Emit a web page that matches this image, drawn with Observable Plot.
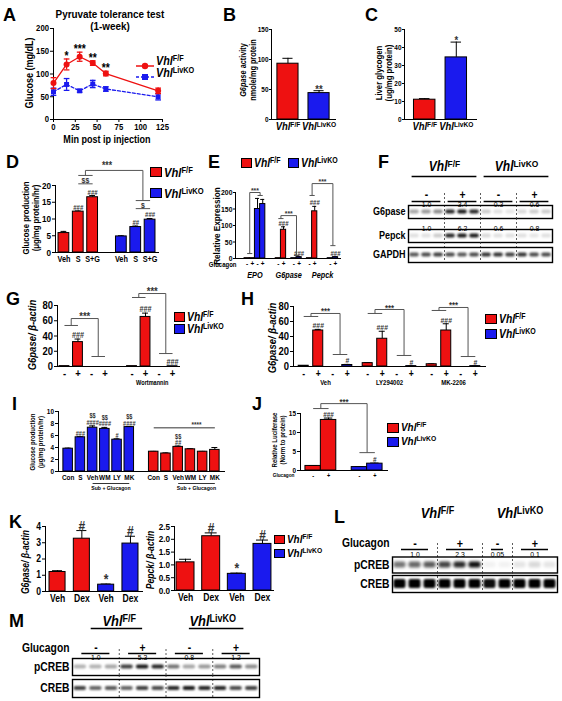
<!DOCTYPE html>
<html><head><meta charset="utf-8">
<script src="https://cdn.jsdelivr.net/npm/d3@7"></script>
<script src="https://cdn.jsdelivr.net/npm/@observablehq/plot@0.6"></script>
<style>
body{margin:0;background:#fff;}
#root{position:relative;width:562px;height:701px;overflow:hidden;font-family:"Liberation Sans",Arial,Helvetica,sans-serif;font-weight:bold;color:#000;background:#fff;}
sup{font-size:68%;vertical-align:0;position:relative;top:-0.5em;font-style:normal;}
</style></head><body><div id="root"></div><script>
// ================= DATA =================
// A: pyruvate tolerance test
const ptt_time = [0, 15, 30, 45, 60, 120];
const ptt_ff = [80, 121, 138, 124, 101, 63];
const ptt_ff_err = [12, 12, 10, 5, 5, 6];
const ptt_ko = [61, 77, 63, 78, 67, 50];
const ptt_ko_err = [8, 13, 3, 8, 5, 7];
const ptt_sig = ["", "*", "***", "**", "**", ""];
const ptt_xticks = [0, 25, 50, 75, 100, 125];
const ptt_yticks = [0, 50, 100, 150, 200];
// B, C
const genotypes = ["Vhl^F/F", "Vhl^LivKO"];
const g6act = [93, 44], g6act_err = [9, 4], g6act_sig = ["", "**"];
const glyco = [11, 34.5], glyco_err = [0.6, 8.5], glyco_sig = ["", "*"];
// D
const d_treat = ["Veh", "S", "S+G"];
const d_ff = [5.8, 12.2, 16.5], d_ff_err = [0.5, 0.2, 0.5], d_ff_sig = ["", "###", "###"];
const d_ko = [4.8, 7.6, 9.8], d_ko_err = [0.2, 0.3, 0.35], d_ko_sig = ["", "##", "###"];
// E
const e_genes = ["EPO", "G6pase", "Pepck"];
const e_ff_minus = [1, 1, 1];
const e_ff_plus = [1, 87, 143], e_ff_plus_err = [0, 9, 15], e_ff_plus_sig = ["", "###", "###"];
const e_ko_minus = [150, 1, 1], e_ko_minus_err = [32, 0, 0];
const e_ko_plus = [165, 4, 4], e_ko_plus_err = [14, 1, 1], e_ko_plus_sig = ["", "###", "###"];
const e_brk = [[15, 200, 191], [121, 130, 9], [191, 227, 39]];
// F blot
const f_signs = ["-", "+", "-", "+"];
const f_g6pase_ratio = ["1.0", "3.4", "0.3", "0.6"];
const f_pepck_ratio = ["1.0", "6.2", "0.6", "0.8"];
const f_g6pase_bands = [0.35, 0.4, 0.45, 0.85, 0.9, 0.85, 0.2, 0.12, 0.1, 0.15, 0.2, 0.2];
const f_pepck_bands = [0.12, 0.12, 0.2, 0.85, 0.9, 0.9, 0.15, 0.12, 0.12, 0.12, 0.1, 0.12];
const f_gapdh_bands = [0.65, 0.7, 0.75, 0.7, 0.65, 0.7, 0.8, 0.8, 0.75, 0.8, 0.7, 0.7];
// G
const g_ff_minus = [0.5, 0.5], g_ff_plus = [32, 65], g_ff_plus_err = [4, 5];
const g_ko_minus = [0, 0], g_ko_plus = [0, 0.3];
const g_ff_sig = ["###", "###"], g_ko_sig = ["", "###"];
const g_brk = [[53.8, 62.9, 13.1], [90.5, 95.7, 17]];
// H
const h_groups = ["Veh", "LY294002", "MK-2206"];
const h_ff_minus = [1, 4.5, 3], h_ff_minus_err = [0.3, 0.6, 0.5];
const h_ff_plus = [48, 37, 48], h_ff_plus_err = [1.5, 10, 9];
const h_ko_minus = [0, 0, 0];
const h_ko_plus = [2, 0.5, 0.5], h_ko_plus_err = [0.8, 0.2, 0.2];
const h_ff_sig = ["###", "###", "###"], h_ko_sig = ["#", "#", "#"];
const h_brk = [[66.7, 70.7, 16], [70.7, 76, 14.7], [74.7, 78.7, 13.3]];
// I
const i_treat = ["Con", "S", "Veh", "WM", "LY", "MK"];
const i_blue = [3.8, 5.7, 7.3, 7.1, 5.3, 7.4], i_blue_err = [0.1, 0.1, 0.3, 0.25, 0.15, 0.1];
const i_blue_sig = ["", "###", "$$\n####", "$$\n####", "#", "$$\n####"];
const i_red = [3.3, 3.0, 4.1, 3.7, 3.3, 3.6], i_red_err = [0.05, 0.1, 0.15, 0.1, 0.05, 0.4];
const i_red_sig = ["", "", "$$\n##", "", "", ""];
const i_sub = "Sub + Glucagon";
const i_all = {t: "****", y: 7.3};
// J
const j_ff = [1.2, 13.3], j_ff_err = [0.1, 0.5];
const j_ko = [0.9, 1.8], j_ko_err = [0.05, 0.15];
const j_sig_ff = ["", "###"], j_sig_ko = ["", "#"];
const j_brk = [16.3, 17.6, 4.7];
// K
const k_treat = ["Veh", "Dex", "Veh", "Dex"];
const k_geno = ["F", "F", "K", "K"];
const k_g6 = [1.2, 3.25, 0.42, 2.95], k_g6_err = [0.08, 0.5, 0.04, 0.45];
const k_pepck = [1.1, 2.12, 0.65, 1.82], k_pepck_err = [0.12, 0.13, 0.03, 0.15];
const k_sig = ["", "#", "*", "#"];
// L blot
const l_ratio = ["1.0", "2.3", "0.05", "0.1"];
const l_pcreb_bands = [0.55, 0.6, 0.65, 0.75, 0.85, 0.95, 0.05, 0.05, 0.1, 0.15, 0.1];
const l_creb_bands = [1, 1, 1, 1, 1, 1, 0.95, 1, 1, 1, 1];
// M blot
const m_ratio = ["1.0", "5.3", "0.8", "1.2"];
const m_pcreb_bands = [0.3, 0.3, 0.35, 0.75, 0.9, 0.85, 0.55, 0.35, 0.4, 0.5, 0.65, 0.45];
const m_creb_bands = [0.75, 0.6, 0.65, 0.6, 0.75, 0.7, 0.85, 0.9, 0.85, 0.85, 0.7, 0.75];

// ================= HELPERS =================
const RED = "#ee1111", BLUE = "#1a1aee", BR = "#555", ANN = "#333";
const FONT = '"Liberation Sans", Arial, Helvetica, sans-serif';
const SX = 0.86; // horizontal squeeze of the figure's lettering
const root = document.getElementById("root");
const NS = "http://www.w3.org/2000/svg";
const geoFill = g => g === "F" ? RED : BLUE;

function place(el, left, top) { el.style.position = "absolute"; el.style.left = left + "px"; el.style.top = top + "px"; root.appendChild(el); return el; }
function div(css, inner) { const d = document.createElement("div"); d.style.cssText = "position:absolute;white-space:nowrap;line-height:1;" + css; d.innerHTML = inner; root.appendChild(d); return d; }
function ctext(cx, cy, inner, fs, extra = "") { return div(`left:${cx}px;top:${cy}px;font-size:${fs}px;transform:translate(-50%,-50%) scaleX(${SX});text-align:center;${extra}`, inner); }
function vtext(cx, cy, inner, fs, extra = "") { return div(`left:${cx}px;top:${cy}px;font-size:${fs}px;transform:translate(-50%,-50%) rotate(-90deg) scaleX(${SX});text-align:center;line-height:1.15;${extra}`, inner); }
function ltext(x, cy, inner, fs, extra = "") { return div(`left:${x}px;top:${cy}px;font-size:${fs}px;transform:translateY(-50%) scaleX(${SX});transform-origin:0 50%;${extra}`, inner); }
function letter(x, capTop, ch, fs = 18) { div(`left:${x}px;top:${capTop - 2}px;font-size:${fs}px;`, ch); }
function swatch(x, y, w, h, color) { div(`left:${x}px;top:${y}px;width:${w}px;height:${h}px;background:${color};border:1px solid #000;box-sizing:border-box;`, ""); }
const VFF = "<i>Vhl</i><sup>F/F</sup>", VKO = "<i>Vhl</i><sup>LivKO</sup>";

function supify(svg) {
  svg.querySelectorAll("text, tspan").forEach(t => {
    if (t.children.length) return;
    const s = t.textContent;
    if (!s.includes("^")) return;
    const [base, sup] = s.split("^");
    t.textContent = "";
    const a = document.createElementNS(NS, "tspan"); a.textContent = base; a.setAttribute("font-style", "italic");
    const b = document.createElementNS(NS, "tspan"); b.textContent = sup; b.setAttribute("dy", "-0.45em"); b.setAttribute("font-size", "70%");
    t.append(a, b);
  });
}
function narrow(svg) {
  svg.querySelectorAll("text").forEach(t => {
    const tr = t.getAttribute("transform");
    if (tr) t.setAttribute("transform", tr + ` scale(${SX},1)`);
    else {
      const x = +(t.getAttribute("x") || 0), y = +(t.getAttribute("y") || 0);
      t.setAttribute("transform", `translate(${x},${y}) scale(${SX},1) translate(${-x},${-y})`);
    }
  });
}
function finish(svg) { supify(svg); narrow(svg); }
function style(fs) { return {fontFamily: FONT, fontWeight: "bold", fontSize: fs + "px", background: "transparent", overflow: "visible", color: "#000"}; }
function mkPlot({ax, yt, ml, mr, mt, mb, w, h, fs = 8, xfs, marks, ...rest}) {
  const svg = Plot.plot({width: ml + w + mr, height: mt + h + mb, marginLeft: ml, marginRight: mr, marginTop: mt, marginBottom: mb,
    style: style(fs), color: {type: "identity"}, marks: marks.flat().filter(Boolean), ...rest});
  if (xfs) svg.querySelectorAll('[aria-label^="x-axis"]').forEach(g => g.setAttribute("font-size", xfs));
  finish(svg);
  place(svg, ax - ml, yt - mt);
  return svg;
}
function barRecs(keys, vals, errs, sigs, fills, extra = {}) {
  return keys.map((k, i) => ({k, v: vals[i], e: errs ? errs[i] : 0, s: sigs ? sigs[i] : "", f: fills[i], ...extra}));
}
function barMarks(data, {cap = 2, sigFs = 7, sigDy = -2, fx = false} = {}) {
  const o = fx ? {fx: "g"} : {};
  const er = data.filter(d => d.e > 0);
  return [
    Plot.ruleX(er, {...o, x: "k", y1: "v", y2: d => d.v + d.e, stroke: "#000", strokeWidth: 1}),
    Plot.tickY(er, {...o, x: "k", y: d => d.v + d.e, insetLeft: cap, insetRight: cap, stroke: "#000", strokeWidth: 1}),
    Plot.barY(data, {...o, x: "k", y: "v", fill: "f", stroke: "#000", strokeWidth: 1}),
    Plot.text(data.filter(d => d.s), {...o, x: "k", y: d => d.v + d.e, text: "s", dy: sigDy, fontSize: sigFs, lineAnchor: "bottom", fill: ANN})
  ];
}
function bracketMarks(list, half) {
  const feet = [], ups = [];
  const hasFx = list[0].fx !== undefined;
  for (const b of list) {
    const base = hasFx ? {fx: b.fx} : {};
    feet.push({...base, x1: b.l1, x2: b.l2, y1: b.yl, y2: b.yl});
    feet.push({...base, x1: b.r1, x2: b.r2, y1: b.yr, y2: b.yr});
    ups.push({...base, x1: b.l2, x2: b.l2, y1: b.yl, y2: b.yt});
    ups.push({...base, x1: b.l2, x2: b.r2, y1: b.yt, y2: b.yt});
    ups.push({...base, x1: b.r2, x2: b.r2, y1: b.yt, y2: b.yr});
  }
  const o = {x1: "x1", x2: "x2", y1: "y1", y2: "y2", stroke: BR, strokeWidth: 1};
  if (hasFx) o.fx = "fx";
  return [Plot.link(feet, o), Plot.link(ups, {...o, dx: -half})];
}
let blurId = 0;
function addBlur(svg, sd) {
  const id = "blur" + (++blurId);
  const defs = document.createElementNS(NS, "defs");
  defs.innerHTML = `<filter id="${id}" x="-30%" y="-150%" width="160%" height="400%"><feGaussianBlur stdDeviation="${sd}"/></filter>`;
  svg.prepend(defs);
  svg.querySelectorAll('g[aria-label="rect"]').forEach(g => g.setAttribute("filter", `url(#${id})`));
}
function blot(cfg) {
  const {x0, x1, n, dividers, groups, signs, H, rows, ml = 70, mr = 5} = cfg;
  const w = x1 - x0;
  const centers = groups.map(g => (g[0] + g[1]) / 2);
  const hsvg = Plot.plot({width: ml + w + mr, height: 2 * H.rowH, marginLeft: ml, marginRight: mr, marginTop: 0, marginBottom: 0,
    style: style(10), x: {domain: [0, n], axis: null}, y: {domain: ["g", "s"], axis: null, padding: 0, round: false},
    marks: [
      Plot.ruleX(dividers, {x: d => d, y: () => "s", insetTop: H.divInset, strokeDasharray: "2,2", stroke: "#333", strokeWidth: 0.8}),
      Plot.text(H.geno, {x: "at", y: () => "g", text: "t", fontSize: H.genoFs}),
      H.genoLines ? Plot.ruleY(H.genoLines, {x1: d => d[0], x2: d => d[1], y: () => "g", dy: H.genoDy, strokeWidth: 1.5}) : null,
      Plot.text(signs, {x: (d, i) => centers[i], y: () => "s", text: d => d, fontSize: H.signFs, dy: H.signTextDy || 0}),
      Plot.ruleY(groups, {x1: g => g[0] + H.signInset, x2: g => g[1] - H.signInset, y: () => "s", dy: H.signDy, strokeWidth: 1.5}),
      H.glucagon ? Plot.text(["Glucagon"], {x: () => 0, y: () => "s", dx: -3, dy: H.signTextDy || 0, textAnchor: "end", text: d => d, fontSize: H.glucFs}) : null
    ].filter(Boolean)});
  finish(hsvg);
  place(hsvg, x0 - ml, H.top);
  for (const r of rows) {
    const bh = r.bottom - r.top;
    const lanes = r.a.map((a, i) => ({i, a}));
    const inset = (bh - r.band) / 2;
    const svg = Plot.plot({width: ml + w + mr, height: r.mt + bh, marginLeft: ml, marginRight: mr, marginTop: r.mt, marginBottom: 0,
      style: style(10), x: {domain: [0, n], axis: null},
      marks: [
        Plot.rect(lanes, {x1: d => d.i + 0.1, x2: d => d.i + 0.9, insetTop: inset, insetBottom: inset, fill: "#000", fillOpacity: "a", rx: 2}),
        Plot.ruleX(dividers, {x: d => d, insetTop: -r.mt, strokeDasharray: "2,2", stroke: "#333", strokeWidth: 0.8}),
        Plot.frame({stroke: "#000", strokeWidth: 1.4}),
        Plot.text([r.name], {frameAnchor: "left", dx: -3, textAnchor: "end", text: d => d, fontSize: r.fs}),
        r.nums ? Plot.text(r.nums, {x: (d, i) => centers[i], frameAnchor: "top", dy: -r.numDy, text: d => d, fontWeight: "normal", fontSize: r.numFs || 8.5}) : null
      ].filter(Boolean)});
    addBlur(svg, r.blur || 1);
    finish(svg);
    place(svg, x0 - ml, r.top - r.mt);
  }
}

// ================= PANEL A =================
{
  const rows = ptt_time.map((t, i) => ({t, ff: ptt_ff[i], ffe: ptt_ff_err[i], ko: ptt_ko[i], koe: ptt_ko_err[i], s: ptt_sig[i]}));
  const cap = {draw(ctx, size) { const w = Math.sqrt(size); ctx.moveTo(-w, 0); ctx.lineTo(w, 0); }};
  const errs = (key, ekey, color) => [
    Plot.ruleX(rows, {x: "t", y1: d => d[key] - d[ekey], y2: d => d[key] + d[ekey], stroke: color, strokeWidth: 1.3}),
    Plot.dot(rows, {x: "t", y: d => d[key] - d[ekey], symbol: cap, r: 1.6, stroke: color, fill: "none", strokeWidth: 1.3}),
    Plot.dot(rows, {x: "t", y: d => d[key] + d[ekey], symbol: cap, r: 1.6, stroke: color, fill: "none", strokeWidth: 1.3})
  ];
  mkPlot({ax: 53, yt: 28, w: 109, h: 91, ml: 30, mr: 10, mt: 15, mb: 20, fs: 9,
    x: {domain: [0, 125], ticks: ptt_xticks, tickSize: 3, tickPadding: 1, line: true, label: null},
    y: {domain: [0, 200], ticks: ptt_yticks, tickSize: 3, tickPadding: 1.5, line: true, label: null},
    marks: [
      errs("ko", "koe", BLUE),
      Plot.line(rows, {x: "t", y: "ko", stroke: BLUE, strokeWidth: 1.3, strokeDasharray: "3,2"}),
      Plot.dot(rows, {x: "t", y: "ko", symbol: "square", r: 2.8, fill: BLUE}),
      errs("ff", "ffe", RED),
      Plot.line(rows, {x: "t", y: "ff", stroke: RED, strokeWidth: 1.3}),
      Plot.dot(rows, {x: "t", y: "ff", r: 3, fill: RED}),
      Plot.text(rows.filter(d => d.s), {x: "t", y: d => d.ff + d.ffe, text: "s", dy: 1, lineAnchor: "bottom", fontSize: 12})
    ]});
  letter(3, 8, "A");
  ctext(110, 15, "Pyruvate tolerance test", 11.5);
  ctext(110, 27, "(1-week)", 11.5);
  vtext(29, 73, "Glucose (mg/dL)", 10.5);
  ctext(107, 138.5, "Min post ip injection", 10.5);
  div(`left:136px;top:57px;`, `<svg width="18" height="8"><line x1="0" y1="4" x2="18" y2="4" stroke="${RED}" stroke-width="1.5"/><circle cx="9" cy="4" r="3.2" fill="${RED}"/></svg>`);
  div(`left:136px;top:68px;`, `<svg width="18" height="8"><line x1="0" y1="4" x2="18" y2="4" stroke="${BLUE}" stroke-width="1.5" stroke-dasharray="3,2"/><rect x="6" y="1" width="6" height="6" fill="${BLUE}"/></svg>`);
  ltext(156, 61, VFF, 12.5);
  ltext(156, 73, VKO, 12.5);
}

// ================= PANEL B & C =================
{
  const b = barRecs(genotypes, g6act, g6act_err, g6act_sig, [RED, BLUE]);
  mkPlot({ax: 271, yt: 29, w: 64, h: 90, ml: 30, mr: 8, mt: 10, mb: 22, fs: 7.5, xfs: 11,
    x: {domain: genotypes, paddingInner: 0.32, paddingOuter: 0.19, round: false, tickSize: 0, tickPadding: 3, line: true, label: null},
    y: {domain: [0, 150], ticks: [0, 50, 100, 150], tickSize: 2, tickPadding: 1, line: true, label: null},
    marks: [barMarks(b, {cap: 5.5, sigFs: 11, sigDy: 2})]});
  letter(223, 8, "B");
  vtext(249, 70, "<i>G6pase</i> activity<br>nmole/mg protein", 8.5);

  const c = barRecs(genotypes, glyco, glyco_err, glyco_sig, [RED, BLUE]);
  mkPlot({ax: 404, yt: 29, w: 72, h: 90, ml: 30, mr: 8, mt: 10, mb: 22, fs: 7.5, xfs: 11,
    x: {domain: genotypes, paddingInner: 0.32, paddingOuter: 0.3, round: false, tickSize: 0, tickPadding: 3, line: true, label: null},
    y: {domain: [0, 50], ticks: [0, 10, 20, 30, 40, 50], tickSize: 2, tickPadding: 1, line: true, label: null},
    marks: [barMarks(c, {cap: 5.5, sigFs: 11, sigDy: 2})]});
  letter(365, 8, "C");
  vtext(384, 73, "Liver glycogen<br>(ug/mg protein)", 9);
}

// ================= PANEL D =================
{
  const dom = ["F|Veh", "F|S", "F|S+G", "gap", "K|Veh", "K|S", "K|S+G"];
  const data = [
    ...barRecs(d_treat.map(t => "F|" + t), d_ff, d_ff_err, d_ff_sig, d_treat.map(() => RED)),
    ...barRecs(d_treat.map(t => "K|" + t), d_ko, d_ko_err, d_ko_sig, d_treat.map(() => BLUE))
  ];
  mkPlot({ax: 55, yt: 185, w: 103, h: 67, ml: 30, mr: 5, mt: 25, mb: 15, fs: 9.5, xfs: 8.5,
    x: {domain: dom, ticks: dom.filter(k => k !== "gap"), tickFormat: k => k.split("|")[1], paddingInner: 0.25, paddingOuter: 0.21, round: false, tickSize: 0, tickPadding: 3, line: true, label: null},
    y: {domain: [0, 20], ticks: [0, 5, 10, 15, 20], tickSize: 3, tickPadding: 1.5, line: true, label: null},
    marks: [
      barMarks(data, {cap: 2.5, sigFs: 7, sigDy: -1}),
      bracketMarks([{l1: "F|S", l2: "F|S+G", r1: "K|S", r2: "K|S+G", yl: 23, yt: 24.5, yr: 15.5}], 7.2),
      Plot.link([{a: "F|S", b: "F|S+G", y: 20.5}, {a: "K|S", b: "K|S+G", y: 13.1}], {x1: "a", x2: "b", y1: "y", y2: "y", stroke: BR}),
      Plot.text([{x: "gap", y: 24.5, t: "***"}], {x: "x", y: "y", text: "t", dy: -1, lineAnchor: "bottom", fontSize: 10, fill: ANN}),
      Plot.text([{x: "F|S+G", y: 20.5, t: "$$"}, {x: "K|S+G", y: 13.1, t: "$"}], {x: "x", y: "y", text: "t", dx: -7.2, dy: -1, lineAnchor: "bottom", fontSize: 8, fill: ANN})
    ]});
  letter(6, 155, "D");
  vtext(31, 218, "Glucose production<br>(μg/mg protein/hr)", 9);
  swatch(150, 167, 12, 10, RED); ltext(164, 172, VFF, 13);
  swatch(150, 188, 12, 10, BLUE); ltext(164, 193, VKO, 13);
}

// ================= PANEL E =================
{
  const dom = ["EPO|F-", "EPO|F+", "EPO|K-", "EPO|K+", "EPO|s1", "EPO|s2", "G6pase|F-", "G6pase|F+", "G6pase|s1", "G6pase|K-", "G6pase|K+", "G6pase|s2", "Pepck|F-", "Pepck|F+", "Pepck|s1", "Pepck|s2", "Pepck|K-", "Pepck|K+"];
  const data = [];
  e_genes.forEach((g, i) => {
    data.push({k: g + "|F-", v: e_ff_minus[i], e: 0, s: "", f: RED});
    data.push({k: g + "|F+", v: e_ff_plus[i], e: e_ff_plus_err[i], s: e_ff_plus_sig[i], f: RED});
    data.push({k: g + "|K-", v: e_ko_minus[i], e: e_ko_minus_err[i], s: "", f: BLUE});
    data.push({k: g + "|K+", v: e_ko_plus[i], e: e_ko_plus_err[i], s: e_ko_plus_sig[i], f: BLUE});
  });
  const brk = e_genes.map((g, i) => ({l1: g + "|F-", l2: g + "|F+", r1: g + "|K-", r2: g + "|K+", yl: e_brk[i][0], yt: e_brk[i][1], yr: e_brk[i][2]}));
  mkPlot({ax: 235, yt: 192, w: 105, h: 66, ml: 30, mr: 5, mt: 25, mb: 25, fs: 8, xfs: 7.5,
    x: {domain: dom, ticks: dom.filter(k => !k.includes("|s")), tickFormat: k => k.endsWith("-") ? "-" : "+", paddingInner: 0, paddingOuter: 1.1, align: 0.79, round: false, tickSize: 0, tickPadding: 2, line: true, label: null},
    y: {domain: [0, 200], ticks: [0, 50, 100, 150, 200], tickSize: 2, tickPadding: 1, line: true, label: null},
    marks: [
      barMarks(data, {cap: 0.6, sigFs: 7, sigDy: -1}),
      bracketMarks(brk, 2.6),
      Plot.text([{x: "EPO|K-", y: 200}, {x: "Pepck|s2", y: 227}], {x: "x", y: "y", text: () => "***", dx: -2.6, dy: 0, lineAnchor: "bottom", fontSize: 8, fill: ANN}),
      Plot.text([{x: "G6pase|s1", y: 130}], {x: "x", y: "y", text: () => "***", dy: 0, lineAnchor: "bottom", fontSize: 8, fill: ANN}),
      Plot.text([{x: "EPO|K-", t: "EPO"}, {x: "Pepck|s2", t: "Pepck"}], {x: "x", y: () => 0, text: "t", dx: -2.6, dy: 17, fontSize: 8.5, fontStyle: "italic"}),
      Plot.text([{x: "G6pase|s1", t: "G6pase"}], {x: "x", y: () => 0, text: "t", dy: 17, fontSize: 8.5, fontStyle: "italic"}),
      Plot.text(["Glucagon"], {frameAnchor: "bottom-left", text: d => d, dx: 1, dy: 8, textAnchor: "end", fontSize: 7})
    ]});
  letter(208, 155, "E");
  vtext(216.5, 226, "Relative Expression", 9.5);
  swatch(241, 158, 11, 10, RED); ltext(254, 163, VFF, 12);
  swatch(288, 158, 11, 10, BLUE); ltext(301, 163, VKO, 12);
}

// ================= PANEL F (blot) =================
blot({x0: 408, x1: 552, n: 12, dividers: [3, 6, 9], groups: [[0, 3], [3, 6], [6, 9], [9, 12]], signs: f_signs,
  H: {top: 165.5, rowH: 15, geno: [{at: 3, t: "Vhl^F/F"}, {at: 9, t: "Vhl^LivKO"}], genoFs: 14, genoLines: [[0.3, 5.7], [6.3, 11.7]], genoDy: 10,
      signFs: 12, signTextDy: -1.5, signInset: 0.3, signDy: 5, divInset: 6, glucagon: false},
  rows: [
    {name: "G6pase", top: 205, bottom: 218, mt: 12, band: 4, a: f_g6pase_bands, nums: f_g6pase_ratio, numDy: 4.5, numFs: 8, fs: 10.5},
    {name: "Pepck", top: 229, bottom: 242, mt: 11, band: 4, a: f_pepck_bands, nums: f_pepck_ratio, numDy: 4.5, numFs: 8, fs: 10.5},
    {name: "GAPDH", top: 247, bottom: 262, mt: 5, band: 4, a: f_gapdh_bands, fs: 10.5}
  ]});
letter(378, 155, "F");

// ================= PANEL G =================
{
  const dom = ["1F-", "1F+", "1K-", "1K+", "sp", "2F-", "2F+", "2K-", "2K+"];
  const data = [];
  [0, 1].forEach(i => {
    const p = (i + 1) + "";
    data.push({k: p + "F-", v: g_ff_minus[i], e: 0, s: "", f: RED});
    data.push({k: p + "F+", v: g_ff_plus[i], e: g_ff_plus_err[i], s: g_ff_sig[i], f: RED});
    data.push({k: p + "K-", v: g_ko_minus[i], e: 0, s: "", f: BLUE});
    data.push({k: p + "K+", v: g_ko_plus[i], e: 0, s: g_ko_sig[i], f: BLUE});
  });
  const brk = [0, 1].map(i => { const p = (i + 1) + ""; return {l1: p + "F-", l2: p + "F+", r1: p + "K-", r2: p + "K+", yl: g_brk[i][0], yt: g_brk[i][1], yr: g_brk[i][2]}; });
  mkPlot({ax: 57, yt: 305, w: 122, h: 61, ml: 30, mr: 5, mt: 25, mb: 25, fs: 11, xfs: 11,
    x: {domain: dom, ticks: dom.filter(k => k !== "sp"), tickFormat: k => k.slice(-1), paddingInner: 0.27, paddingOuter: 0.15, round: false, tickSize: 0, tickPadding: 3, line: true, label: null},
    y: {domain: [0, 80], ticks: [0, 20, 40, 60, 80], tickSize: 3, tickPadding: 1.5, line: true, label: null},
    marks: [
      barMarks(data, {cap: 2, sigFs: 8.5, sigDy: -1}),
      bracketMarks(brk, 6.75),
      Plot.text(brk, {x: "l2", y: "yt", text: () => "***", dx: 6.75, dy: 1, lineAnchor: "bottom", fontSize: 11, fill: ANN}),
      Plot.text(["Wortmannin"], {x: () => "2F+", y: () => 0, text: d => d, dx: 6.75, dy: 16, fontSize: 6.5})
    ]});
  letter(6, 292, "G");
  vtext(32, 335, "<i>G6pase/ β-actin</i>", 11);
  swatch(174, 312, 11, 10, RED); ltext(187, 317, VFF, 12);
  swatch(174, 324, 11, 10, BLUE); ltext(187, 329, VKO, 12);
}

// ================= PANEL H (faceted) =================
{
  const data = [];
  h_groups.forEach((g, i) => {
    data.push({g, k: "F-", v: h_ff_minus[i], e: h_ff_minus_err[i], s: "", f: RED});
    data.push({g, k: "F+", v: h_ff_plus[i], e: h_ff_plus_err[i], s: h_ff_sig[i], f: RED});
    data.push({g, k: "K-", v: h_ko_minus[i], e: 0, s: "", f: BLUE});
    data.push({g, k: "K+", v: h_ko_plus[i], e: h_ko_plus_err[i], s: h_ko_sig[i], f: BLUE});
  });
  const brk = h_groups.map((g, i) => ({fx: g, l1: "F-", l2: "F+", r1: "K-", r2: "K+", yl: h_brk[i][0], yt: h_brk[i][1], yr: h_brk[i][2]}));
  mkPlot({ax: 293, yt: 306, w: 192, h: 60, ml: 25, mr: 5, mt: 25, mb: 25, fs: 11, xfs: 10,
    fx: {domain: h_groups, padding: 0, axis: null, round: false},
    x: {domain: ["F-", "F+", "K-", "K+"], tickFormat: k => k.slice(-1), paddingInner: 0.31, paddingOuter: 0.357, round: false, tickSize: 0, tickPadding: 3, line: true, label: null},
    y: {domain: [0, 80], ticks: [0, 20, 40, 60, 80], tickSize: 3, tickPadding: 1.5, line: true, label: null},
    marks: [
      barMarks(data, {cap: 2, sigFs: 8, sigDy: -1, fx: true}),
      bracketMarks(brk, 7.25),
      Plot.text(brk, {fx: "fx", x: "l2", y: "yt", text: () => "***", dx: 7.25, dy: 1, lineAnchor: "bottom", fontSize: 9, fill: ANN}),
      Plot.text(h_groups, {fx: d => d, frameAnchor: "bottom", text: d => d, dy: 18, fontSize: 7})
    ]});
  letter(241, 292, "H");
  vtext(272, 338, "<i>G6pase/ β-actin</i>", 11);
  swatch(485, 314, 12, 10, RED); ltext(499, 319, VFF, 12);
  swatch(485, 329, 12, 10, BLUE); ltext(499, 334, VKO, 12);
}

// ================= PANEL I =================
{
  const dom = [...i_treat.map(t => "B|" + t), "gap", ...i_treat.map(t => "R|" + t)];
  const data = [
    ...barRecs(i_treat.map(t => "B|" + t), i_blue, i_blue_err, i_blue_sig, i_treat.map(() => BLUE)),
    ...barRecs(i_treat.map(t => "R|" + t), i_red, i_red_err, i_red_sig, i_treat.map(() => RED))
  ];
  mkPlot({ax: 58, yt: 411, w: 166, h: 60, ml: 25, mr: 5, mt: 15, mb: 25, fs: 7.5, xfs: 7.5,
    x: {domain: dom, ticks: dom.filter(k => k !== "gap"), tickFormat: k => k.split("|")[1], paddingInner: 0.22, paddingOuter: 0.4, round: false, tickSize: 0, tickPadding: 3, line: true, label: null},
    y: {domain: [0, 10], ticks: [0, 2, 4, 6, 8, 10], tickSize: 3, tickPadding: 1.5, line: true, label: null},
    marks: [
      barMarks(data, {cap: 1.8, sigFs: 6.5, sigDy: -1}),
      Plot.link([{a: "R|Con", b: "R|MK", y: i_all.y}], {x1: "a", x2: "b", y1: "y", y2: "y", stroke: "#777", strokeWidth: 1.5}),
      Plot.text([i_all], {x: () => "R|WM", y: "y", text: "t", dx: 6.1, dy: -1, lineAnchor: "bottom", fontSize: 7.5, fill: ANN}),
      Plot.link(["B", "R"], {x1: p => p + "|Veh", x2: p => p + "|MK", y1: () => 0, y2: () => 0, dy: 12, stroke: "#000", strokeWidth: 0.8}),
      Plot.text(["B", "R"], {x: p => p + "|WM", y: () => 0, text: () => i_sub, dx: 6.1, dy: 16.5, fontSize: 6})
    ]});
  letter(12, 397, "I");
  vtext(37, 442, "Glucose production<br>(μg/mg protein/hr)", 7);
}

// ================= PANEL J =================
{
  const dom = ["F-", "F+", "sp", "K-", "K+"];
  const data = [
    ...barRecs(["F-", "F+"], j_ff, j_ff_err, j_sig_ff, [RED, RED]),
    ...barRecs(["K-", "K+"], j_ko, j_ko_err, j_sig_ko, [BLUE, BLUE])
  ];
  mkPlot({ax: 300, yt: 413, w: 87, h: 57, ml: 25, mr: 5, mt: 15, mb: 15, fs: 7.5, xfs: 6.5,
    x: {domain: dom, ticks: ["F-", "F+", "K-", "K+"], tickFormat: k => k.slice(-1), paddingInner: 0, paddingOuter: 0.32, round: false, tickSize: 0, tickPadding: 3, line: true, label: null},
    y: {domain: [0, 15], ticks: [0, 5, 10, 15], tickSize: 3, tickPadding: 1.5, line: true, label: null},
    marks: [
      barMarks(data, {cap: 3.5, sigFs: 7.5, sigDy: -1}),
      bracketMarks([{l1: "F-", l2: "F+", r1: "K-", r2: "K+", yl: j_brk[0], yt: j_brk[1], yr: j_brk[2]}], 7.75),
      Plot.text([{x: "sp", y: j_brk[1]}], {x: "x", y: "y", text: () => "***", dy: 1, lineAnchor: "bottom", fontSize: 9, fill: ANN}),
      Plot.text(["Glucagon"], {frameAnchor: "bottom-left", text: d => d, dx: -6, dy: 6.5, textAnchor: "end", fontSize: 5.5})
    ]});
  letter(252, 397, "J");
  vtext(279, 440, "Relative Luciferase<br>(Norm to protein)", 7);
  swatch(387, 423, 12, 10, RED); ltext(401, 428, VFF, 11.5);
  swatch(387, 437, 12, 10, BLUE); ltext(401, 442, VKO, 11.5);
}

// ================= PANEL K =================
{
  const keys = k_treat.map((t, i) => k_geno[i] + "|" + t);
  const fills = k_geno.map(geoFill);
  const kx = (pi, po) => ({domain: keys, tickFormat: k => k.split("|")[1], paddingInner: pi, paddingOuter: po, round: false, tickSize: 0, tickPadding: 3, line: true, label: null});
  mkPlot({ax: 45, yt: 526, w: 97, h: 65, ml: 20, mr: 5, mt: 15, mb: 15, fs: 10, xfs: 10,
    x: kx(0.34, 0.165),
    y: {domain: [0, 4], ticks: [0, 1, 2, 3, 4], tickFormat: d3.format("d"), tickSize: 3, tickPadding: 1.5, line: true, label: null},
    marks: [barMarks(barRecs(keys, k_g6, k_g6_err, k_sig, fills), {cap: 3, sigFs: 14, sigDy: 0})]});
  mkPlot({ax: 174, yt: 526, w: 99, h: 64, ml: 20, mr: 5, mt: 15, mb: 15, fs: 9.5, xfs: 10,
    x: kx(0.3, 0.08),
    y: {domain: [0, 2.5], ticks: [0, 0.5, 1, 1.5, 2, 2.5], tickFormat: d3.format(".1f"), tickSize: 3, tickPadding: 1.5, line: true, label: null},
    marks: [barMarks(barRecs(keys, k_pepck, k_pepck_err, k_sig, fills), {cap: 3, sigFs: 14, sigDy: 0})]});
  letter(9, 515, "K");
  vtext(26, 562, "<i>G6pase/ β-actin</i>", 10);
  vtext(151, 560, "<i>Pepck/ β-actin</i>", 10);
  swatch(274, 535, 11, 9, RED); ltext(287, 540, VFF, 11.5);
  swatch(274, 549, 11, 9, BLUE); ltext(287, 554, VKO, 11.5);
}

// ================= PANEL L (blot) =================
blot({x0: 392, x1: 557, n: 11, dividers: [3, 6, 8], groups: [[0, 3], [3, 6], [6, 8], [8, 11]], signs: f_signs,
  H: {top: 512.5, rowH: 15, geno: [{at: 3, t: "Vhl^F/F"}, {at: 8.5, t: "Vhl^LivKO"}], genoFs: 15, genoLines: null,
      signFs: 12.5, signInset: 0.6, signDy: 6, divInset: 2, glucagon: true, glucFs: 12},
  rows: [
    {name: "pCREB", top: 556, bottom: 572, mt: 13.5, band: 6, a: l_pcreb_bands, nums: l_ratio, numDy: 5.5, numFs: 8, fs: 12, blur: 1.4},
    {name: "CREB", top: 575, bottom: 592, mt: 3, band: 9, a: l_creb_bands, fs: 12, blur: 1.2}
  ]});
letter(334, 510, "L");

// ================= PANEL M (blot) =================
blot({x0: 72, x1: 259, n: 12, dividers: [3, 6, 9], groups: [[0, 3], [3, 6], [6, 9], [9, 12]], signs: f_signs,
  H: {top: 621, rowH: 14, geno: [{at: 3, t: "Vhl^F/F"}, {at: 9, t: "Vhl^LivKO"}], genoFs: 15, genoLines: [[1.2, 4.5], [7.5, 11]], genoDy: 7,
      signFs: 12, signTextDy: -1, signInset: 0.6, signDy: 4, divInset: 0, glucagon: true, glucFs: 12},
  rows: [
    {name: "pCREB", top: 658, bottom: 675, mt: 9, band: 4, a: m_pcreb_bands, nums: m_ratio, numDy: 4, numFs: 8, fs: 12},
    {name: "CREB", top: 679, bottom: 697, mt: 4, band: 4, a: m_creb_bands, fs: 12}
  ]});
letter(9, 614, "M");
</script></body></html>
